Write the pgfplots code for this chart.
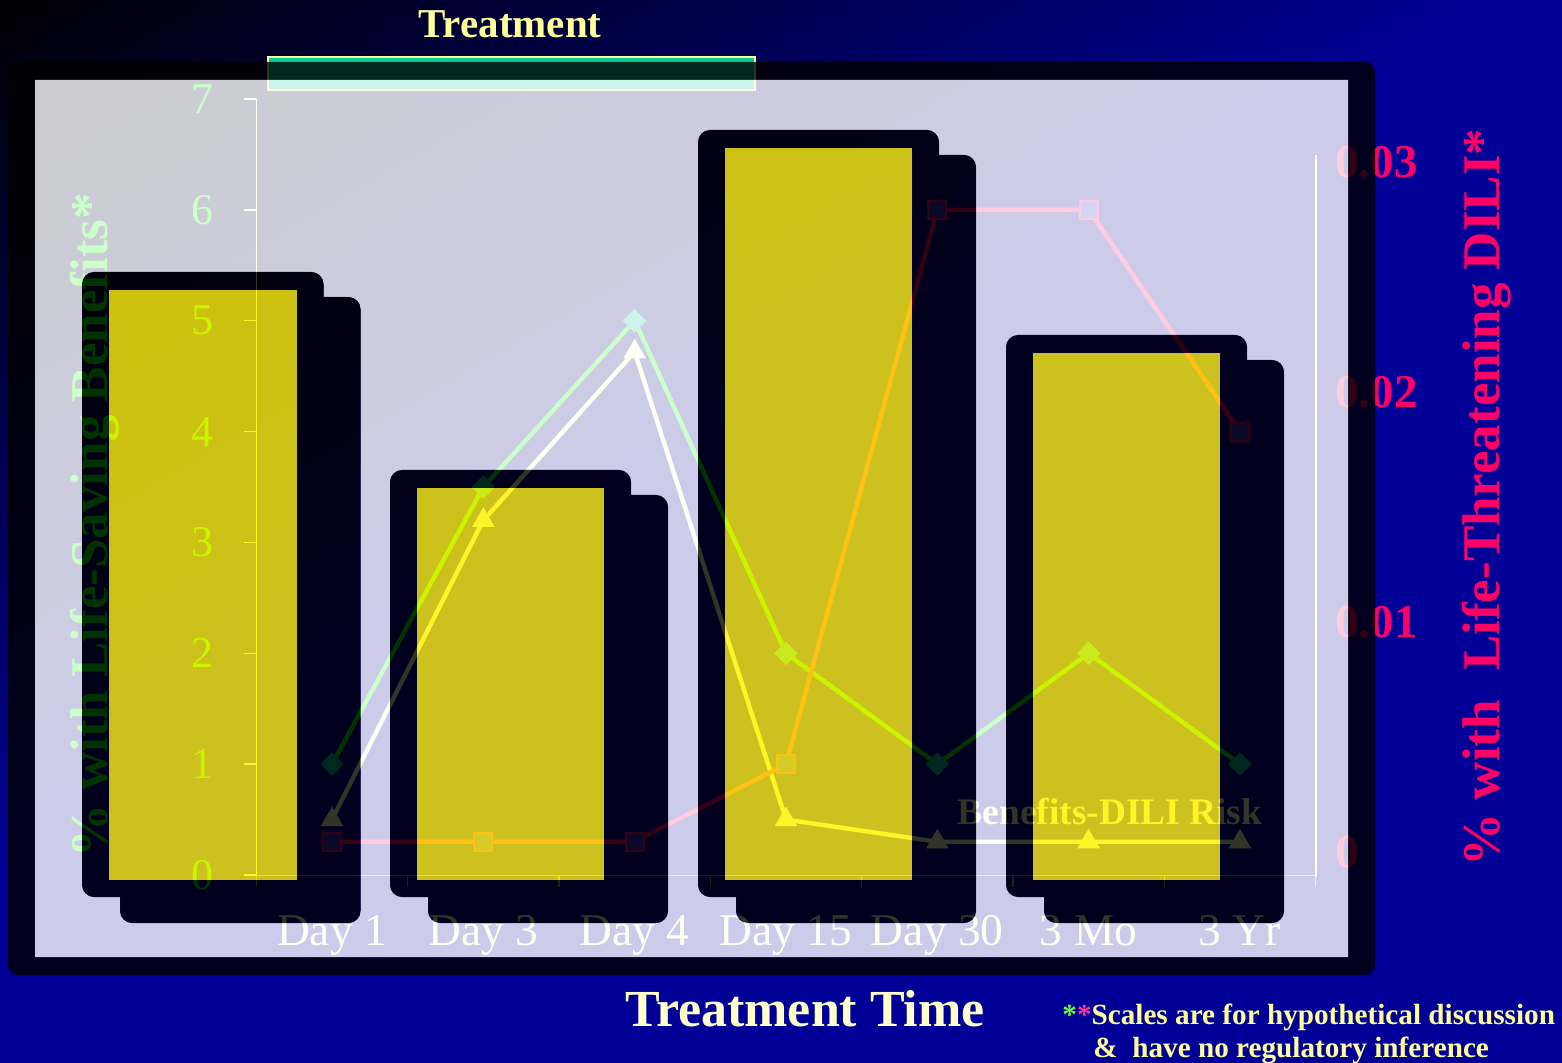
\documentclass[border=0pt]{standalone}
\usepackage{pgfplots}
\pgfplotsset{compat=1.18}
\usepackage{fontspec}
\setmainfont{Liberation Serif}
\definecolor{cream}{RGB}{255,255,204}
\definecolor{ltyel}{RGB}{255,255,153}
\definecolor{dili}{RGB}{255,0,102}
\definecolor{benefit}{RGB}{0,255,0}
\definecolor{dfill}{RGB}{0,200,150}
\definecolor{sqfill}{RGB}{51,51,204}
\definecolor{bgblue}{RGB}{0,0,150}
\definecolor{bgdark}{RGB}{0,0,4}
\definecolor{brk}{RGB}{0,208,150}
\definecolor{olivex}{RGB}{170,170,60}
\definecolor{stargreen}{RGB}{102,255,51}
\definecolor{starpink}{RGB}{255,51,153}
\pgfplotsset{
 panel/.style={at={(128.1675pt,-437.5pt)}, anchor=south west, scale only axis,
   width=529.655pt, height=388pt, xmin=-0.5, xmax=6.5, clip=false},
}
\begin{document}
\begin{tikzpicture}[x=0.5pt,y=-0.5pt]
% slide background: linear gradient from top-left dark to blue
\begin{scope}
\clip (0,0) rectangle (1562,1063);
\fill[bgblue] (0,0) rectangle (1562,1063);
\begin{scope}[rotate=-60]
\foreach \i in {0,...,49}{
  \pgfmathsetmacro\p{\i*2}
  \fill[bgblue!\p!bgdark] (\i*15-1,-3000) rectangle (\i*15+16,3000);
}
\end{scope}
\end{scope}
% treatment bracket
\filldraw[fill=brk, draw=ltyel, line width=1pt] (268,57) rectangle (755,90);

% main axis: lines, ticks, labels
\begin{axis}[panel, ymin=0, ymax=7,
 axis x line*=bottom, axis y line*=left,
 y axis line style={cream, line width=0.75pt},
 x axis line style={olivex, line width=0.5pt},
 tick align=outside, major tick length=6pt,
 ytick={0,...,7}, yticklabels={0,1,2,3,4,5,6,7},
 ytick style={cream, line width=0.75pt},
 yticklabel style={font=\fontsize{22}{22}\selectfont, text=benefit, anchor=east, inner sep=0pt, xshift=-15pt},
 xtick={0,...,6}, xticklabels={Day 1,Day 3,Day 4,Day 15,Day 30,3 Mo,3 Yr},
 xtick style={draw=none},
 xticklabel style={font=\fontsize{22.75}{22.75}\selectfont, text=cream, anchor=base, inner sep=0pt, yshift=-29pt},
 extra x ticks={-0.5,0.5,1.5,2.5,3.5,4.5,5.5,6.5},
 extra x tick labels={},
 extra x tick style={xtick style={draw=olivex, line width=0.75pt}},
]
\addplot[benefit, line width=2.2pt, mark=square*, mark size=3.9pt,
  mark options={rotate=45, fill=dfill, draw=dfill, line width=0.5pt}]
  coordinates {(0,1) (1,3.5) (2,5) (3,2) (4,1) (5,2) (6,1)};
\addplot[cream, line width=2.2pt, mark=triangle*, mark size=6pt,
  mark options={fill=cream, draw=cream, line width=0.5pt}]
  coordinates {(0,0.5) (1,3.2) (2,4.72) (3,0.5) (4,0.3) (5,0.3) (6,0.3)};
\addplot[dili, line width=2.2pt, mark=square*, mark size=4.5pt,
  mark options={fill=sqfill, draw=dili, line width=1pt}]
  coordinates {(0,0.3) (1,0.3) (2,0.3) (3,1) (4,6) (5,6) (6,4)};
\node[rotate=90, text=benefit, font=\bfseries\fontsize{26.5}{26.5}\selectfont]
  at (axis cs:-1.566,3.157) {\% with Life-Saving Benefits*};
\end{axis}

% right axis: tick labels only
\begin{axis}[panel, ymin=-0.001, ymax=0.03274,
 axis x line=none, axis y line*=right, scaled y ticks=false,
 y axis line style={draw=none}, major tick length=0pt,
 ytick={0,0.01,0.02,0.03}, yticklabels={0,0.01,0.02,0.03},
 yticklabel style={font=\bfseries\fontsize{23.5}{23.5}\selectfont, text=dili, anchor=west, inner sep=0pt, xshift=9.65pt},
]
\addplot[draw=none] coordinates {(0,0)};
\end{axis}
\draw[white, line width=1pt] (1315.7,155) -- (1315.7,877);

\node[text=cream, font=\bfseries\fontsize{18.7}{18.7}\selectfont] at (1110,812) {Benefits-DILI Risk};

% overlays (0.8 opaque, non overlapping)
\fill[black, fill opacity=0.8, even odd rule] [rounded corners=5pt] (8,62) rectangle (1375,975)
  [sharp corners] (35,80) rectangle (1348,957);
\fill[white, fill opacity=0.8, even odd rule] (35,80) rectangle (1348,957) [rounded corners=6pt]
  (82,272) -- (323.5,272) [sharp corners] -- (323.5,297) [rounded corners=6pt] -- (360.5,297) -- (360.5,923) -- (120,923) [sharp corners] -- (120,897) [rounded corners=6pt] -- (82,897) -- cycle
  (390,470) -- (631,470) [sharp corners] -- (631,495) [rounded corners=6pt] -- (668,495) -- (668,923) -- (428,923) [sharp corners] -- (428,897) [rounded corners=6pt] -- (390,897) -- cycle
  (698,130) -- (939,130) [sharp corners] -- (939,155) [rounded corners=6pt] -- (976,155) -- (976,923) -- (736,923) [sharp corners] -- (736,897) [rounded corners=6pt] -- (698,897) -- cycle
  (1006,335) -- (1247,335) [sharp corners] -- (1247,360) [rounded corners=6pt] -- (1284,360) -- (1284,923) -- (1044,923) [sharp corners] -- (1044,897) [rounded corners=6pt] -- (1006,897) -- cycle;
\fill[black, fill opacity=0.8, even odd rule] [rounded corners=6pt]
  (82,272) -- (323.5,272) [sharp corners] -- (323.5,297) [rounded corners=6pt] -- (360.5,297) -- (360.5,923) -- (120,923) [sharp corners] -- (120,897) [rounded corners=6pt] -- (82,897) -- cycle
  (390,470) -- (631,470) [sharp corners] -- (631,495) [rounded corners=6pt] -- (668,495) -- (668,923) -- (428,923) [sharp corners] -- (428,897) [rounded corners=6pt] -- (390,897) -- cycle
  (698,130) -- (939,130) [sharp corners] -- (939,155) [rounded corners=6pt] -- (976,155) -- (976,923) -- (736,923) [sharp corners] -- (736,897) [rounded corners=6pt] -- (698,897) -- cycle
  (1006,335) -- (1247,335) [sharp corners] -- (1247,360) [rounded corners=6pt] -- (1284,360) -- (1284,923) -- (1044,923) [sharp corners] -- (1044,897) [rounded corners=6pt] -- (1006,897) -- cycle
  [sharp corners] (109,290) rectangle (296.5,880) (417,488) rectangle (604,880)
  (725,148) rectangle (912,880) (1033,353) rectangle (1220,880);

% yellow bars
\begin{axis}[panel, ymin=0, ymax=7, hide axis]
\addplot[draw=none, fill=yellow, fill opacity=0.8] coordinates {(-1.4736,-0.0451) (-1.4736,5.2771) (-0.2346,5.2771) (-0.2346,-0.0451)} -- cycle;
\addplot[draw=none, fill=yellow, fill opacity=0.8] coordinates {(0.5617,-0.0451) (0.5617,3.4910) (1.7974,3.4910) (1.7974,-0.0451)} -- cycle;
\addplot[draw=none, fill=yellow, fill opacity=0.8] coordinates {(2.5970,-0.0451) (2.5970,6.5585) (3.8327,6.5585) (3.8327,-0.0451)} -- cycle;
\addplot[draw=none, fill=yellow, fill opacity=0.8] coordinates {(4.6323,-0.0451) (4.6323,4.7088) (5.8680,4.7088) (5.8680,-0.0451)} -- cycle;
\end{axis}

% outer texts
\node[rotate=90, text=dili, font=\bfseries\fontsize{26.5}{26.5}\selectfont] at (1487,497.5) {\% with\hspace{0.3em} Life-Threatening DILI*};
\node[text=ltyel, font=\bfseries\fontsize{20.5}{20.5}\selectfont] at (510,24) {Treatment};
\node[text=cream, font=\bfseries\fontsize{26}{26}\selectfont] at (805,1009) {Treatment Time};
\node[anchor=base west, inner sep=0pt, text=ltyel, font=\bfseries\fontsize{14.6}{14.6}\selectfont] at (1062,1024)
  {\textcolor{stargreen}{*}\textcolor{starpink}{*}Scales are for hypothetical discussion};
\node[anchor=base west, inner sep=0pt, text=ltyel, font=\bfseries\fontsize{14.6}{14.6}\selectfont] at (1093,1057)
  {\&\ \ have no regulatory inference};
\pgfresetboundingbox
\useasboundingbox (0,0) rectangle (1562,1063);
\end{tikzpicture}
\end{document}
